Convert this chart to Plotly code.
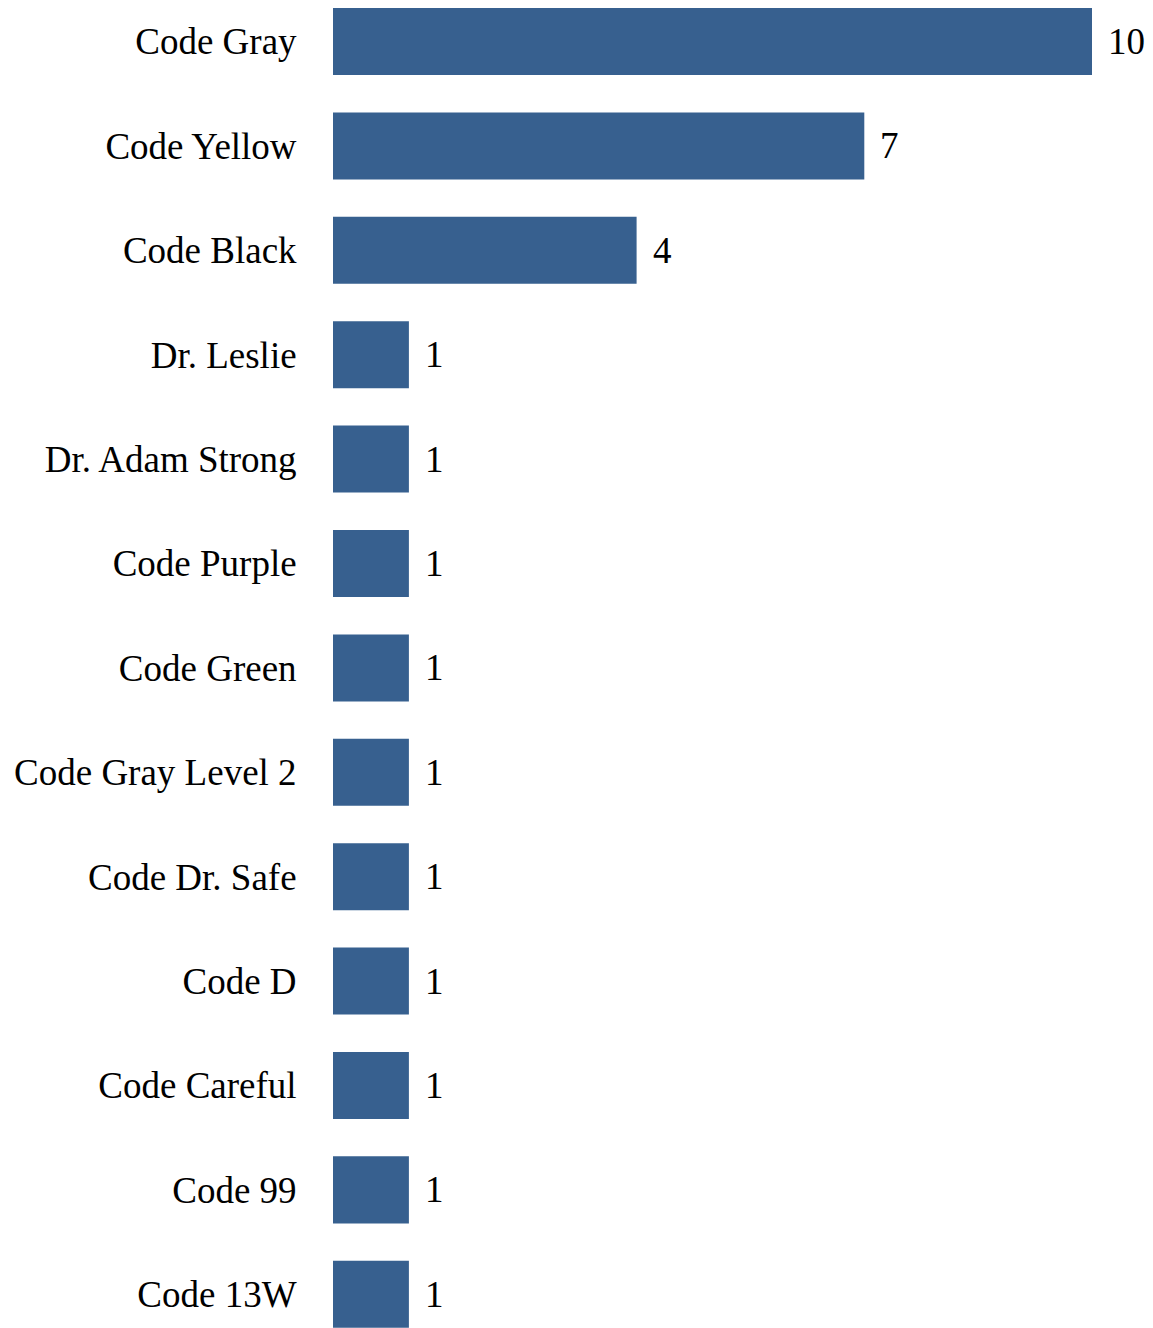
import plotly.graph_objects as go

categories = ["Code Gray", "Code Yellow", "Code Black", "Dr. Leslie", "Dr. Adam Strong",
              "Code Purple", "Code Green", "Code Gray Level 2", "Code Dr. Safe", "Code D",
              "Code Careful", "Code 99", "Code 13W"]
values = [10, 7, 4, 1, 1, 1, 1, 1, 1, 1, 1, 1, 1]

BAR_COLOR = "#37608F"
FONT = "Liberation Serif, Times New Roman, serif"

fig = go.Figure(go.Bar(
    x=values, y=categories, orientation="h",
    marker=dict(color=BAR_COLOR, line=dict(width=0)),
    hoverinfo="x+y",
))

for c, v in zip(categories, values):
    fig.add_annotation(x=v, y=c, text=str(v), xanchor="left", yanchor="middle",
                       xshift=14, showarrow=False,
                       font=dict(family=FONT, size=37, color="black"))

fig.update_layout(
    width=1145, height=1320,
    margin=dict(l=325, r=0, t=0, b=0),
    paper_bgcolor="white", plot_bgcolor="white",
    bargap=0.358,
    showlegend=False,
    font=dict(family=FONT, size=37, color="black"),
    xaxis=dict(range=[0, 820 / 75.9], visible=False, showgrid=False, zeroline=False),
    yaxis=dict(categoryorder="array", categoryarray=categories,
               range=[12.323, -0.321], showgrid=False, zeroline=False, showline=False,
               ticks="outside", ticklen=28, tickcolor="rgba(0,0,0,0)",
               tickfont=dict(family=FONT, size=37, color="black")),
)

fig.write_html("out.html")
